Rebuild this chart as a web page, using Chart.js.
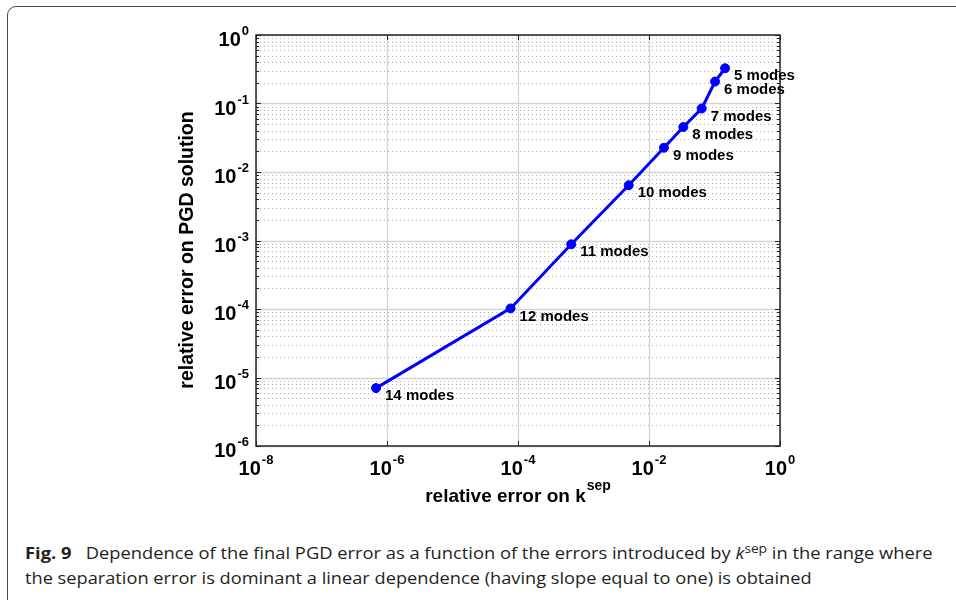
<!DOCTYPE html>
<html>
<head>
<meta charset="utf-8">
<script src="https://cdn.jsdelivr.net/npm/chart.js@4.4.0/dist/chart.umd.min.js"></script>
<style>
    body { margin: 0; width: 956px; height: 600px; background: #fff; overflow: hidden; position: relative; }
    #frame { position: absolute; left: 7px; top: 6px; width: 1000px; height: 700px; border: 1px solid #4a4a4a; border-radius: 9px; }
    #chart { position: absolute; left: 0; top: 0; }
    .cap { position: absolute; left: 25px; font-family: "Open Sans"; font-size: 16.5px; line-height: 20px; color: #231f20; white-space: nowrap; transform-origin: 0 50%; }
    .cap sup { font-size: 0.75em; vertical-align: super; line-height: 0; }
</style>
</head>
<body>
<div id="frame"></div>
<canvas id="chart" width="956" height="520"></canvas>
<div class="cap" id="cap1" style="top:543px"><b>Fig. 9</b>&nbsp;&nbsp; Dependence of the final PGD error as a function of the errors introduced by <i>k</i><sup>sep</sup> in the range where</div>
<div class="cap" id="cap2" style="top:568px">the separation error is dominant a linear dependence (having slope equal to one) is obtained</div>
<script>
// values
let modeLabels = ['14 modes', '12 modes', '11 modes', '10 modes', '9 modes', '8 modes', '7 modes', '6 modes', '5 modes'];
let kSepError = [6.8e-7, 7.7e-5, 6.5e-4, 4.9e-3, 0.0169, 0.0334, 0.0638, 0.102, 0.145];
let pgdError = [7.0e-6, 1.02e-4, 8.8e-4, 6.4e-3, 0.0226, 0.0453, 0.0845, 0.209, 0.327];

let xTickValues = [1e-8, 1e-6, 1e-4, 1e-2, 1];
let xTickExps = ['-8', '-6', '-4', '-2', '0'];
let yTickValues = [1e-6, 1e-5, 1e-4, 1e-3, 1e-2, 1e-1, 1];
let yTickExps = ['-6', '-5', '-4', '-3', '-2', '-1', '0'];

let xTitle = 'relative error on k';
let xTitleSup = 'sep';
let yTitle = 'relative error on PGD solution';

let BOLD = '"Liberation Sans", Arial, sans-serif';

function hline(ctx, x1, x2, y) {
    ctx.beginPath();
    ctx.moveTo(x1, y);
    ctx.lineTo(x2, y);
    ctx.stroke();
}

function vline(ctx, x, y1, y2) {
    ctx.beginPath();
    ctx.moveTo(x, y1);
    ctx.lineTo(x, y2);
    ctx.stroke();
}

// "10" with a raised exponent; align = 'center' or 'right'
function powerLabel(ctx, exp, px, baseline, align) {
    ctx.font = 'bold 20px ' + BOLD;
    let w10 = ctx.measureText('10').width;
    ctx.font = 'bold 13px ' + BOLD;
    let wExp = ctx.measureText(exp).width;
    let total = w10 + 1 + wExp;
    let start = align == 'center' ? px - total / 2 : px - total;
    ctx.textAlign = 'left';
    ctx.textBaseline = 'alphabetic';
    ctx.font = 'bold 20px ' + BOLD;
    ctx.fillText('10', start, baseline);
    ctx.font = 'bold 13px ' + BOLD;
    ctx.fillText(exp, start + w10 + 1, baseline - 11);
}

let decor = {
    id: 'decor',
    beforeDatasetsDraw(chart) {
        let ctx = chart.ctx;
        let a = chart.chartArea;
        let x = chart.scales.x;
        let y = chart.scales.y;
        ctx.save();
        ctx.lineWidth = 1;

        // minor y grid, dotted
        ctx.strokeStyle = '#b0b0b0';
        ctx.setLineDash([1, 3]);
        for (let i = 0; i < yTickValues.length - 1; i++) {
            for (let m = 2; m <= 9; m++) {
                let py = Math.round(y.getPixelForValue(yTickValues[i] * m)) + 0.5;
                hline(ctx, a.left, a.right, py);
            }
        }

        // major grid, solid
        ctx.setLineDash([]);
        ctx.strokeStyle = '#d4d4d4';
        ctx.lineWidth = 1.3;
        yTickValues.forEach(v => {
            let py = Math.round(y.getPixelForValue(v)) + 0.5;
            hline(ctx, a.left, a.right, py);
        });
        xTickValues.forEach(v => {
            let px = Math.round(x.getPixelForValue(v)) + 0.5;
            vline(ctx, px, a.top, a.bottom);
        });
        ctx.restore();
    },
    afterDatasetsDraw(chart) {
        let ctx = chart.ctx;
        let a = chart.chartArea;
        let x = chart.scales.x;
        let y = chart.scales.y;
        ctx.save();

        // box
        ctx.strokeStyle = '#262626';
        ctx.lineWidth = 1.5;
        ctx.strokeRect(a.left, a.top, a.right - a.left, a.bottom - a.top);

        // ticks
        ctx.lineWidth = 1;
        for (let i = 0; i < yTickValues.length; i++) {
            let py = Math.round(y.getPixelForValue(yTickValues[i])) + 0.5;
            hline(ctx, a.left, a.left + 5, py);
            hline(ctx, a.right - 5, a.right, py);
            if (i < yTickValues.length - 1) {
                for (let m = 2; m <= 9; m++) {
                    let pm = Math.round(y.getPixelForValue(yTickValues[i] * m)) + 0.5;
                    hline(ctx, a.left, a.left + 3, pm);
                    hline(ctx, a.right - 3, a.right, pm);
                }
            }
        }
        xTickValues.forEach(v => {
            let px = Math.round(x.getPixelForValue(v)) + 0.5;
            vline(ctx, px, a.bottom - 5, a.bottom);
            vline(ctx, px, a.top, a.top + 5);
        });

        // tick labels
        ctx.fillStyle = '#000';
        xTickValues.forEach((v, i) => {
            powerLabel(ctx, xTickExps[i], x.getPixelForValue(v), a.bottom + 29, 'center');
        });
        yTickValues.forEach((v, i) => {
            powerLabel(ctx, yTickExps[i], a.left - 7, y.getPixelForValue(v) + 11, 'right');
        });

        // axis titles
        ctx.font = 'bold 19px ' + BOLD;
        let wt = ctx.measureText(xTitle).width;
        ctx.font = 'bold 14px ' + BOLD;
        let ws = ctx.measureText(xTitleSup).width;
        let cx = (a.left + a.right) / 2;
        let tx = cx - (wt + 1 + ws) / 2;
        ctx.textAlign = 'left';
        ctx.textBaseline = 'alphabetic';
        ctx.font = 'bold 19px ' + BOLD;
        ctx.fillText(xTitle, tx, 502);
        ctx.font = 'bold 14px ' + BOLD;
        ctx.fillText(xTitleSup, tx + wt + 1, 490);

        ctx.save();
        ctx.translate(188, 250);
        ctx.rotate(-Math.PI / 2);
        ctx.font = 'bold 19.5px ' + BOLD;
        ctx.textAlign = 'center';
        ctx.textBaseline = 'middle';
        ctx.fillText(yTitle, 0, 0);
        ctx.restore();

        // point labels
        let pts = chart.getDatasetMeta(0).data;
        ctx.font = 'bold 15px ' + BOLD;
        ctx.textAlign = 'left';
        ctx.textBaseline = 'middle';
        pts.forEach((p, i) => {
            ctx.fillText(modeLabels[i], p.x + 9, p.y + 8);
        });
        ctx.restore();
    }
};

let ctx = document.getElementById('chart').getContext('2d');

let chart = new Chart(ctx, {
    type: 'line',
    data: {
        datasets: [{
            data: kSepError.map((v, i) => ({ x: v, y: pgdError[i] })),
            borderColor: '#0000ff',
            borderWidth: 3,
            pointRadius: 4.5,
            pointBackgroundColor: '#0000ff',
            pointBorderColor: '#0000ff',
            pointBorderWidth: 1,
            tension: 0,
            clip: false
        }]
    },
    options: {
        responsive: false,
        animation: false,
        layout: { padding: { left: 256, right: 176, top: 35, bottom: 74 } },
        plugins: { legend: { display: false }, tooltip: { enabled: false } },
        scales: {
            x: { type: 'logarithmic', min: 1e-8, max: 1, display: false },
            y: { type: 'logarithmic', min: 1e-6, max: 1, display: false }
        }
    },
    plugins: [decor]
});

function fitLine(id, w) {
    let el = document.getElementById(id);
    el.style.transform = 'scaleX(' + (w / el.scrollWidth) + ')';
}
fitLine('cap1', 908);
fitLine('cap2', 787);
</script>
</body>
</html>
